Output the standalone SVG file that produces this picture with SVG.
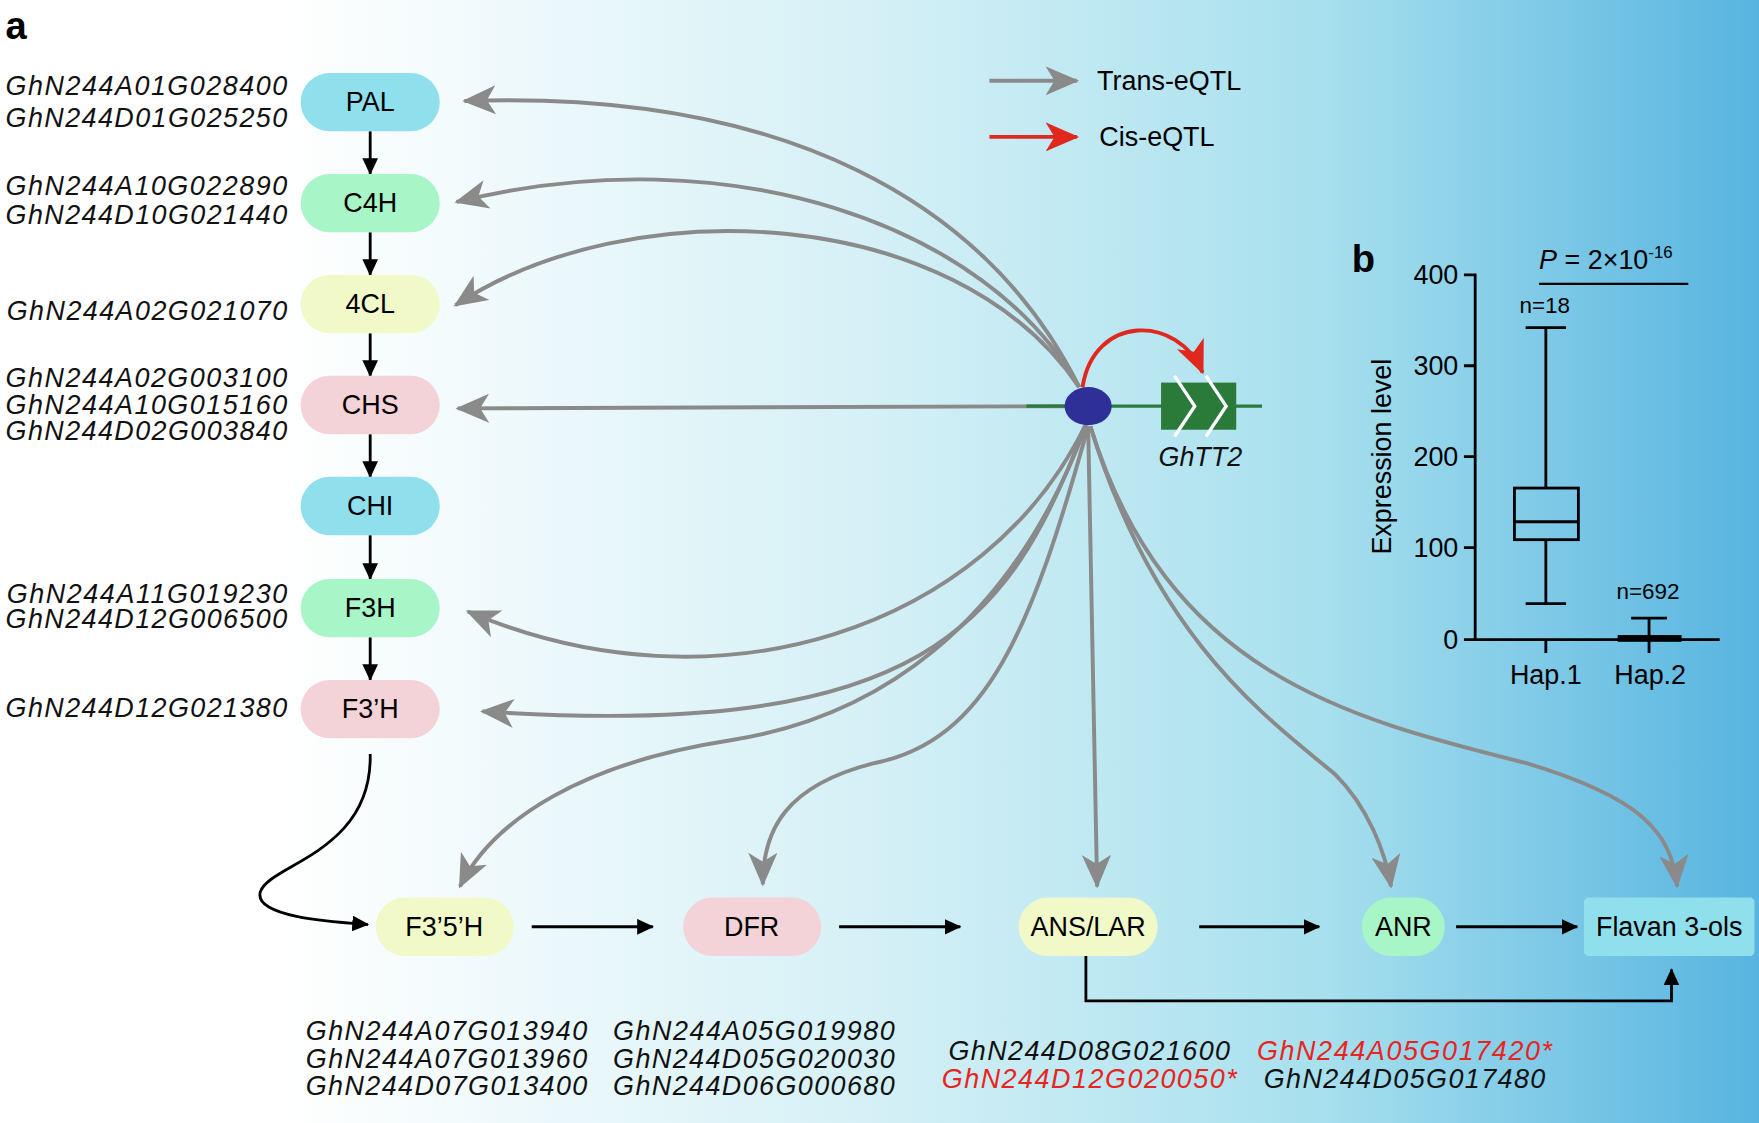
<svg xmlns="http://www.w3.org/2000/svg" width="1759" height="1123" viewBox="0 0 1759 1123">
<defs>
<linearGradient id="bg" x1="0" y1="0" x2="1" y2="0">
<stop offset="0" stop-color="#ffffff"/><stop offset="0.16" stop-color="#ffffff"/><stop offset="0.5" stop-color="#d4f0f6"/><stop offset="0.75" stop-color="#a8e0ee"/><stop offset="1" stop-color="#57b4e0"/>
</linearGradient>
<marker id="ga" markerUnits="userSpaceOnUse" markerWidth="32" markerHeight="26" refX="28" refY="13" orient="auto"><path d="M0,0 L30,13 L0,26 L8,13 Z" fill="#8a8a8a"/></marker>
<marker id="ra" markerUnits="userSpaceOnUse" markerWidth="32" markerHeight="26" refX="28" refY="13" orient="auto"><path d="M0,0 L30,13 L0,26 L8,13 Z" fill="#e0281e"/></marker>
<marker id="ba" markerUnits="userSpaceOnUse" markerWidth="16" markerHeight="14" refX="14" refY="7" orient="auto"><path d="M0,0 L15,7 L0,14 Z" fill="#000"/></marker>
<style>
.t{font-family:"Liberation Sans",Arial,sans-serif;font-size:24px;fill:#000}
.g{font-family:"Liberation Sans",Arial,sans-serif;font-size:24px;font-style:italic;fill:#111}
.r{fill:#e8241f}
.gr{fill:none;stroke:#8a8a8a;stroke-width:3.5;marker-end:url(#ga)}
.bk{fill:none;stroke:#000;stroke-width:2.5;marker-end:url(#ba)}
.ax{fill:none;stroke:#000;stroke-width:2.5}
.cy{fill:#8fe0ec}.gn{fill:#a8f5c8}.yl{fill:#f1f9c9}.pk{fill:#f3d3d8}
</style>
</defs>
<rect width="1759" height="1123" fill="url(#bg)"/>
<g transform="scale(1.1218,1.122)">
<text x="5" y="35" class="t" style="font-size:34px;font-weight:bold">a</text>
<g id="legend">
<line x1="882" y1="72" x2="960" y2="72" class="gr"/><text x="978" y="80" class="t">Trans-eQTL</text>
<line x1="882" y1="122" x2="960" y2="122" stroke="#e0281e" stroke-width="3.5" marker-end="url(#ra)"/><text x="980" y="130" class="t">Cis-eQTL</text>
</g>
<g id="connectors">
<path class="gr" d="M962,345 C880,180 700,80 414,90"/>
<path class="gr" d="M962,345 C880,200 650,120 407,180"/>
<path class="gr" d="M962,345 C850,180 560,170 406,272"/>
<path class="gr" d="M950,362 L408,364"/>
<path class="gr" d="M968,378 C880,560 640,640 417,545"/>
<path class="gr" d="M968,378 C900,560 820,660 430,634"/>
<path class="gr" d="M968,380 C900,560 780,640 650,660 C520,680 440,730 410,790"/>
<path class="gr" d="M970,380 C920,560 880,660 780,680 C700,700 680,740 680,788"/>
<path class="gr" d="M970,380 L978,790"/>
<path class="gr" d="M972,380 C1030,570 1130,640 1190,690 C1220,720 1235,760 1240,790"/>
<path class="gr" d="M972,380 C1040,600 1200,640 1360,680 C1460,710 1490,740 1495,790"/>
<path d="M965,345 C975,280 1050,280 1072,332" fill="none" stroke="#e0281e" stroke-width="3.5" marker-end="url(#ra)"/>
<line x1="330" y1="117" x2="330" y2="155" class="bk"/>
<line x1="330" y1="207" x2="330" y2="245" class="bk"/>
<line x1="330" y1="297" x2="330" y2="335" class="bk"/>
<line x1="330" y1="387" x2="330" y2="425" class="bk"/>
<line x1="330" y1="477" x2="330" y2="516" class="bk"/>
<line x1="330" y1="568" x2="330" y2="606" class="bk"/>
<path class="bk" d="M330,672 C332,760 240,770 232,795 C226,818 300,822 328,824"/>
<line x1="474" y1="826" x2="582" y2="826" class="bk"/>
<line x1="748" y1="826" x2="856" y2="826" class="bk"/>
<line x1="1069" y1="826" x2="1176" y2="826" class="bk"/>
<line x1="1298" y1="826" x2="1406" y2="826" class="bk"/>
<path class="bk" d="M968,852 L968,892 L1490,892 L1490,864"/>
</g>
<g id="gene">
<line x1="915" y1="362" x2="1125" y2="362" stroke="#2a7a3a" stroke-width="3"/>
<rect x="1035" y="341" width="67" height="42" fill="#2a7a3a"/>
<path d="M1047,335 L1065,362 L1047,389 M1075,335 L1093,362 L1075,389" stroke="#fff" stroke-width="3" fill="none"/>
<ellipse cx="970" cy="362" rx="21" ry="17" fill="#2e3098"/>
<text x="1070" y="415" class="g" text-anchor="middle">GhTT2</text>
</g>
<g id="PAL"><rect x="268" y="65" width="124" height="52" rx="26" class="cy"/><text x="330" y="99" class="t" text-anchor="middle">PAL</text>
<text x="256" y="85" class="g" text-anchor="end" textLength="251">GhN244A01G028400</text><text x="256" y="113" class="g" text-anchor="end" textLength="251">GhN244D01G025250</text></g>
<g id="C4H"><rect x="268" y="155" width="124" height="52" rx="26" class="gn"/><text x="330" y="189" class="t" text-anchor="middle">C4H</text>
<text x="256" y="174" class="g" text-anchor="end" textLength="251">GhN244A10G022890</text><text x="256" y="200" class="g" text-anchor="end" textLength="251">GhN244D10G021440</text></g>
<g id="4CL"><rect x="268" y="245" width="124" height="52" rx="26" class="yl"/><text x="330" y="279" class="t" text-anchor="middle">4CL</text>
<text x="256" y="285" class="g" text-anchor="end" textLength="250">GhN244A02G021070</text></g>
<g id="CHS"><rect x="268" y="335" width="124" height="52" rx="26" class="pk"/><text x="330" y="369" class="t" text-anchor="middle">CHS</text>
<text x="256" y="345" class="g" text-anchor="end" textLength="251">GhN244A02G003100</text><text x="256" y="369" class="g" text-anchor="end" textLength="251">GhN244A10G015160</text><text x="256" y="392" class="g" text-anchor="end" textLength="251">GhN244D02G003840</text></g>
<g id="CHI"><rect x="268" y="425" width="124" height="52" rx="26" class="cy"/><text x="330" y="459" class="t" text-anchor="middle">CHI</text></g>
<g id="F3H"><rect x="268" y="516" width="124" height="52" rx="26" class="gn"/><text x="330" y="550" class="t" text-anchor="middle">F3H</text>
<text x="256" y="537" class="g" text-anchor="end" textLength="250">GhN244A11G019230</text><text x="256" y="560" class="g" text-anchor="end" textLength="251">GhN244D12G006500</text></g>
<g id="F3pH"><rect x="268" y="606" width="124" height="52" rx="26" class="pk"/><text x="330" y="640" class="t" text-anchor="middle">F3’H</text>
<text x="256" y="639" class="g" text-anchor="end" textLength="251">GhN244D12G021380</text></g>
<g id="F35H"><rect x="335" y="800" width="123" height="52" rx="26" class="yl"/><text x="396" y="834" class="t" text-anchor="middle">F3’5’H</text>
<text x="398" y="927" class="g" text-anchor="middle" textLength="251">GhN244A07G013940</text><text x="398" y="952" class="g" text-anchor="middle" textLength="251">GhN244A07G013960</text><text x="398" y="976" class="g" text-anchor="middle" textLength="251">GhN244D07G013400</text></g>
<g id="DFR"><rect x="609" y="800" width="123" height="52" rx="26" class="pk"/><text x="670" y="834" class="t" text-anchor="middle">DFR</text>
<text x="672" y="927" class="g" text-anchor="middle" textLength="251">GhN244A05G019980</text><text x="672" y="952" class="g" text-anchor="middle" textLength="251">GhN244D05G020030</text><text x="672" y="976" class="g" text-anchor="middle" textLength="251">GhN244D06G000680</text></g>
<g id="ANSLAR"><rect x="908" y="800" width="124" height="52" rx="26" class="yl"/><text x="970" y="834" class="t" text-anchor="middle">ANS/LAR</text>
<text x="971" y="945" class="g" text-anchor="middle" textLength="251">GhN244D08G021600</text><text x="971" y="970" class="g r" text-anchor="middle" textLength="263">GhN244D12G020050*</text></g>
<g id="ANR"><rect x="1214" y="800" width="74" height="52" rx="26" class="gn"/><text x="1251" y="834" class="t" text-anchor="middle">ANR</text>
<text x="1252" y="945" class="g r" text-anchor="middle" textLength="263">GhN244A05G017420*</text><text x="1252" y="970" class="g" text-anchor="middle" textLength="251">GhN244D05G017480</text></g>
<g id="Flavan"><rect x="1412" y="800" width="152" height="52" rx="4" class="cy"/><text x="1488" y="834" class="t" text-anchor="middle">Flavan 3-ols</text></g>
<g id="panelb">
<text x="1205" y="242" class="t" style="font-size:34px;font-weight:bold">b</text>
<path class="ax" d="M1305,245 H1315 V570 H1533 M1305,326 H1315 M1305,407 H1315 M1305,488 H1315 M1305,570 H1315 M1378,570 V582 M1470,570 V582"/>
<text x="1300" y="253" class="t" text-anchor="end">400</text><text x="1300" y="334" class="t" text-anchor="end">300</text><text x="1300" y="415" class="t" text-anchor="end">200</text><text x="1300" y="496" class="t" text-anchor="end">100</text><text x="1300" y="578" class="t" text-anchor="end">0</text>
<text x="1378" y="610" class="t" text-anchor="middle">Hap.1</text><text x="1471" y="610" class="t" text-anchor="middle">Hap.2</text>
<text transform="translate(1240,407) rotate(-90)" class="t" text-anchor="middle">Expression level</text>
<path class="ax" d="M1378,292 V435 M1378,481 V538 M1360,292 H1396 M1360,538 H1396 M1350,465 H1407"/>
<rect x="1350" y="435" width="57" height="46" fill="none" stroke="#000" stroke-width="2.5"/>
<path class="ax" d="M1470,551 V569 M1454,551 H1486"/>
<rect x="1442" y="566" width="57" height="6" fill="#000"/>
<text x="1377" y="279" class="t" text-anchor="middle" style="font-size:20px">n=18</text>
<text x="1469" y="534" class="t" text-anchor="middle" style="font-size:20px">n=692</text>
<text x="1372" y="240" class="t"><tspan font-style="italic">P</tspan> = 2×10<tspan dy="-10" style="font-size:15px">-16</tspan></text>
<line x1="1372" y1="253" x2="1505" y2="253" stroke="#000" stroke-width="2"/>
</g>
</g>
</svg>
